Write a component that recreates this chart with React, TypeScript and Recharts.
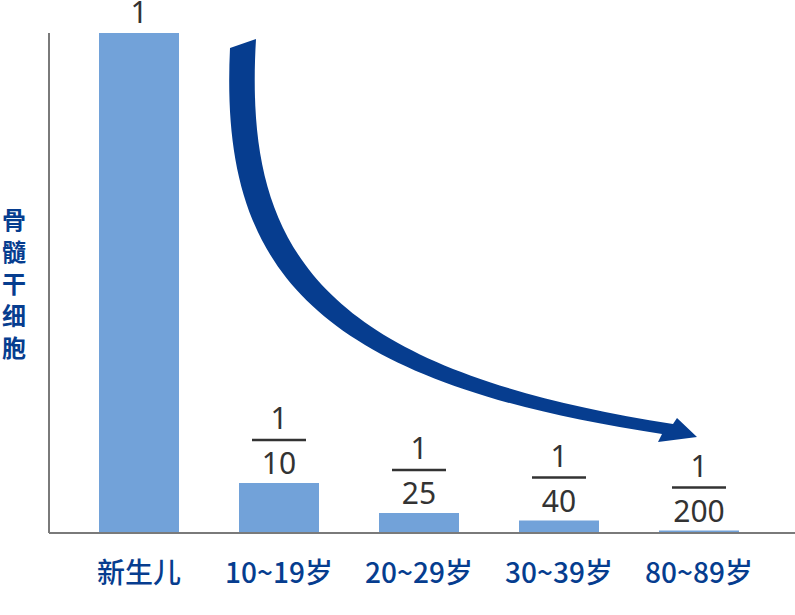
import React from "react";
import { BarChart, Bar, XAxis, YAxis, LabelList, Customized } from "recharts";

const categories = ["新生儿", "10~19岁", "20~29岁", "30~39岁", "80~89岁"];
const stemCellRatio = [1, 0.1, 0.04, 0.025, 0.005];
const numerators = ["1", "1", "1", "1", "1"];
const denominators = ["", "10", "25", "40", "200"];
const yTitle = ["骨", "髓", "干", "细", "胞"];

const data = categories.map((label, i) => ({ label, ratio: stemCellRatio[i] }));

const BLUE = "#063d8f";
const BAR = "#72a2d9";
const NUM_FONT = "'Noto Sans', 'Open Sans', sans-serif";
const CJK_FONT = "'Noto Sans CJK SC', 'Noto Sans', sans-serif";

const FractionLabel = (props: any) => {
  const { x, y, width, index } = props;
  const cx = x + width / 2;
  const den = denominators[index];
  if (!den) {
    return (
      <text x={cx} y={y - 10} textAnchor="middle" fontSize={30} fill="#333" fontFamily={NUM_FONT}>
        {numerators[index]}
      </text>
    );
  }
  return (
    <g>
      <text x={cx} y={y - 54} textAnchor="middle" fontSize={30} fill="#333" fontFamily={NUM_FONT}>
        {numerators[index]}
      </text>
      <line x1={cx - 27} x2={cx + 27} y1={y - 43} y2={y - 43} stroke="#333" strokeWidth={2.5} />
      <text x={cx} y={y - 9} textAnchor="middle" fontSize={30} fill="#333" fontFamily={NUM_FONT}>
        {den}
      </text>
    </g>
  );
};

const CategoryTick = (props: any) => {
  const { x, payload } = props;
  return (
    <text x={x} y={583} textAnchor="middle" fontSize={28} fontWeight={500} fill={BLUE} fontFamily={CJK_FONT}>
      {payload.value}
    </text>
  );
};

const Decorations = () => (
  <g>
    <path
      d="M 230 48 C 220 260, 300 380, 662 434 L 658 442 L 697 437 L 677 418 L 673 424 C 312 368, 244 245, 256 39 Z"
      fill={BLUE}
    />
    {yTitle.map((ch, i) => (
      <text
        key={ch}
        x={14}
        y={229 + i * 32}
        textAnchor="middle"
        fontSize={24}
        fontWeight="bold"
        fill={BLUE}
        fontFamily={CJK_FONT}
      >
        {ch}
      </text>
    ))}
  </g>
);

export default function App() {
  return (
    <div style={{ position: "absolute", left: 0, top: 0, background: "#fff" }}>
      <BarChart width={795} height={615} data={data} margin={{ top: 33, right: 0, bottom: 2, left: 47 }}>
        <XAxis
          dataKey="label"
          height={80}
          axisLine={{ stroke: "#7a7a7a", strokeWidth: 2 }}
          tickLine={false}
          tickSize={0}
          tick={<CategoryTick />}
          padding={{ left: 20, right: 26 }}
          interval={0}
        />
        <YAxis
          domain={[0, 1]}
          width={2}
          tick={false}
          tickLine={false}
          axisLine={{ stroke: "#7a7a7a", strokeWidth: 2 }}
        />
        <Bar dataKey="ratio" fill={BAR} barSize={80} isAnimationActive={false}>
          <LabelList dataKey="ratio" content={<FractionLabel />} />
        </Bar>
        <Customized component={Decorations} />
      </BarChart>
    </div>
  );
}
